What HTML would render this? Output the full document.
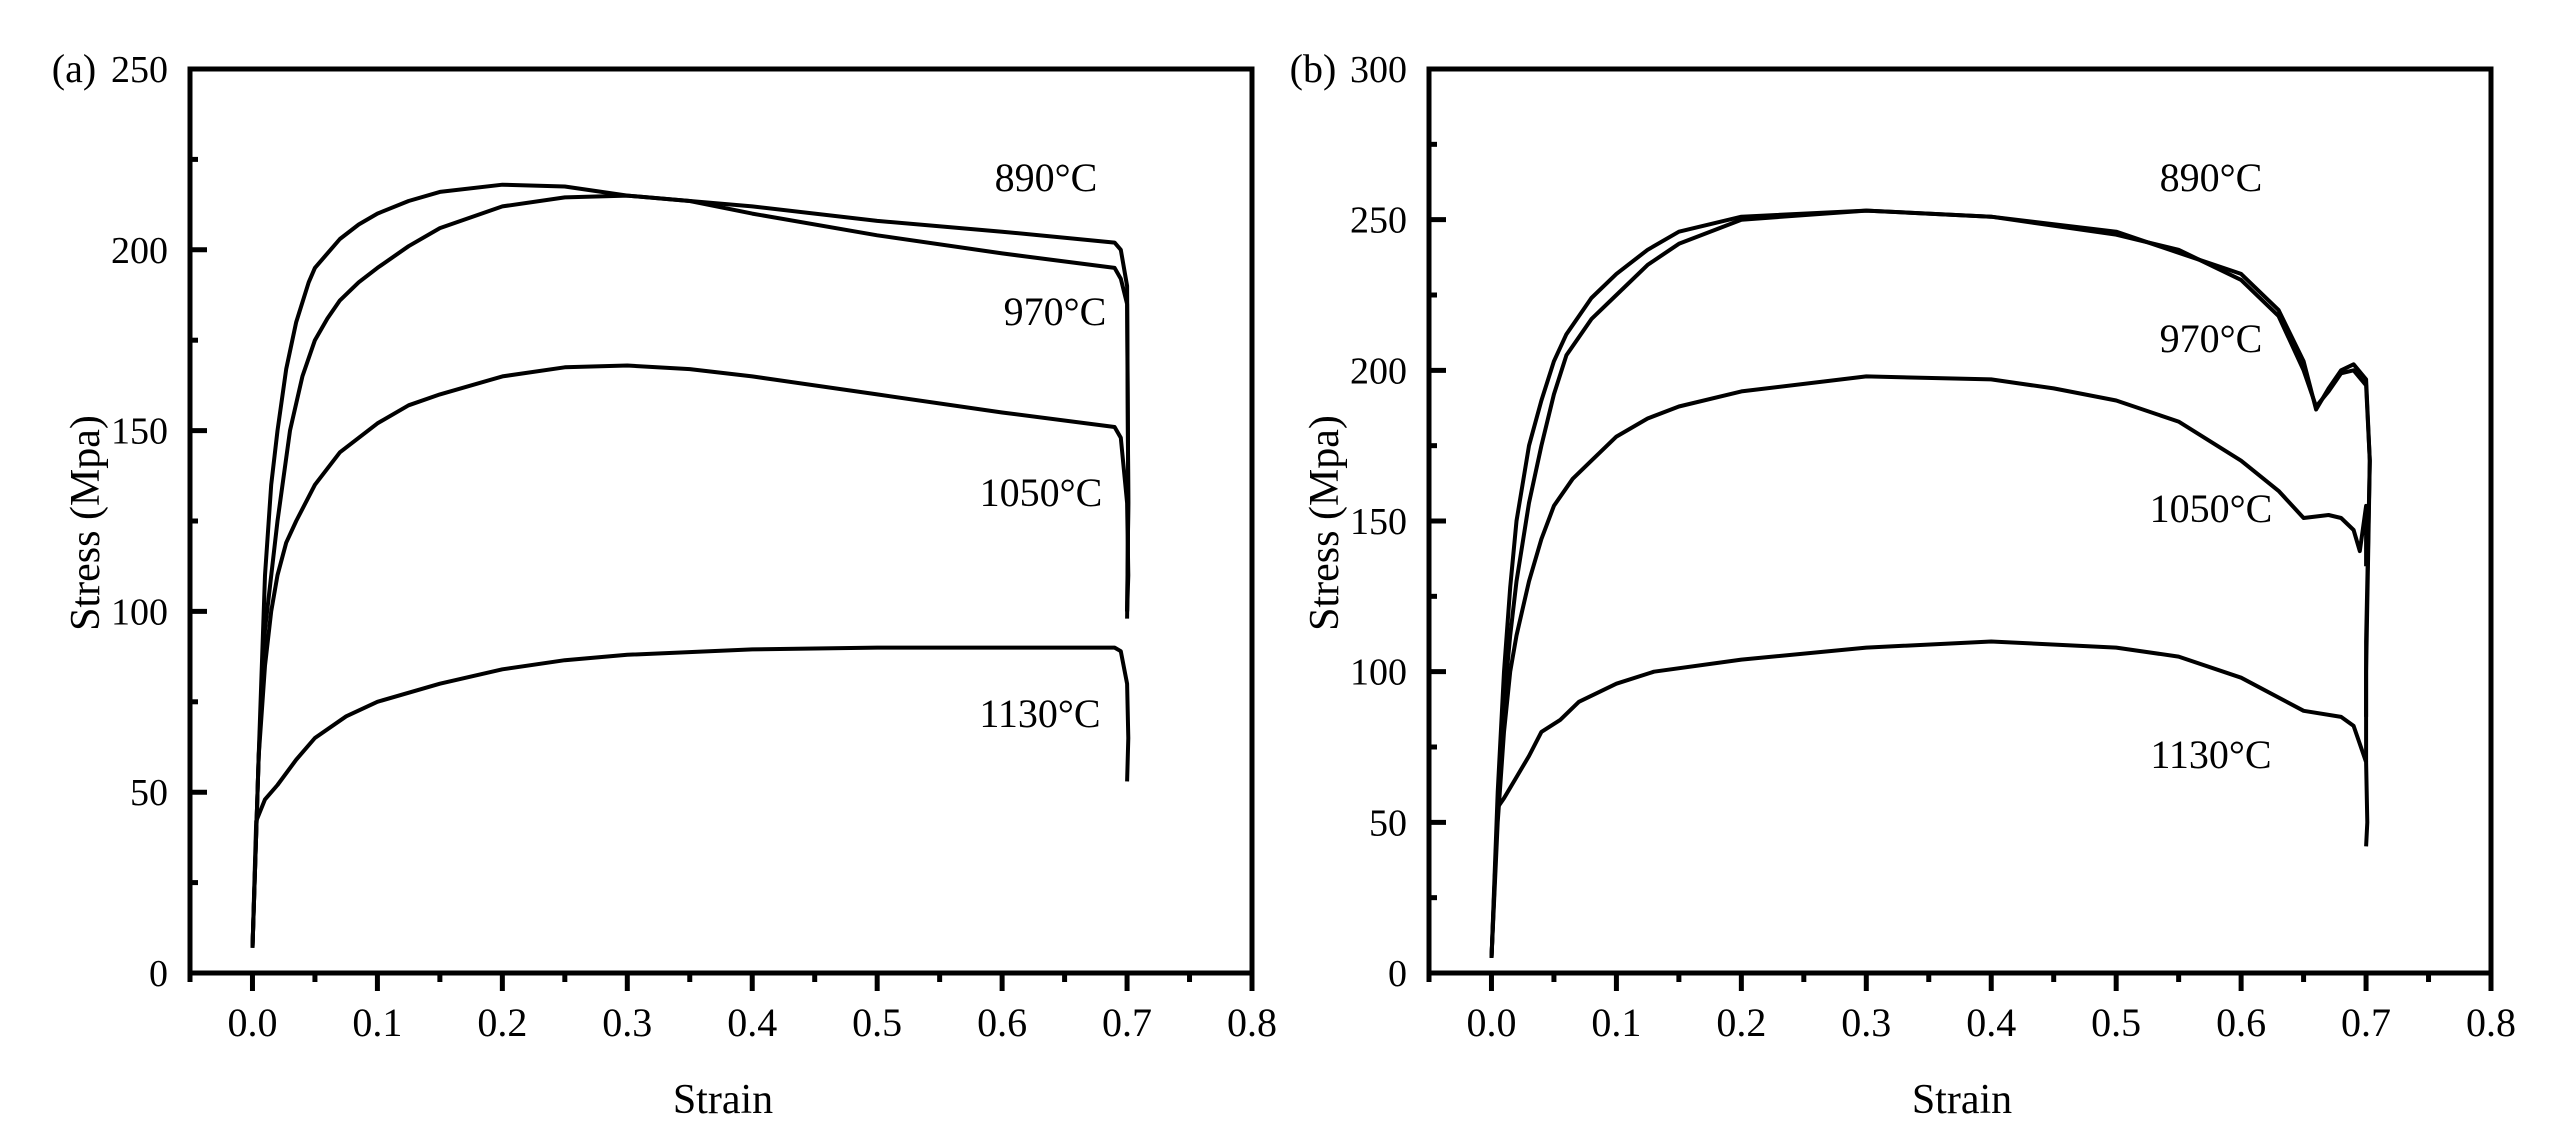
<!DOCTYPE html>
<html><head><meta charset="utf-8"><style>
body{margin:0;background:#fff}
svg text{font-family:"Liberation Serif",serif;fill:#000}
</style></head><body>
<svg id="fig" width="2550" height="1140" viewBox="0 0 2550 1140" xmlns="http://www.w3.org/2000/svg"></svg>
<script>
const xTicks=[0.0,0.1,0.2,0.3,0.4,0.5,0.6,0.7,0.8];
const yTicksA=[0,50,100,150,200,250];
const yTicksB=[0,50,100,150,200,250,300];
const seriesNames=["890°C","970°C","1050°C","1130°C"];
// panel a
const a890x=[0,0.005,0.01,0.015,0.02,0.027,0.035,0.045,0.05,0.06,0.07,0.085,0.1,0.125,0.15,0.2,0.25,0.3,0.4,0.5,0.6,0.69,0.695,0.7,0.701,0.7];
const a890y=[7,60,110,135,150,167,180,191,195,199,203,207,210,213.5,216,218,217.5,215,212,208,205,202,200,190,130,100];
const a970x=[0,0.005,0.01,0.02,0.03,0.04,0.05,0.06,0.07,0.085,0.1,0.125,0.15,0.2,0.25,0.3,0.35,0.4,0.5,0.6,0.69,0.695,0.7,0.701,0.7];
const a970y=[7,60,95,125,150,165,175,181,186,191,195,201,206,212,214.5,215,213.5,210,204,199,195,192,185,130,98];
const a1050x=[0,0.005,0.01,0.015,0.02,0.027,0.035,0.05,0.07,0.1,0.125,0.15,0.2,0.25,0.3,0.35,0.4,0.5,0.6,0.69,0.695,0.7,0.701,0.7];
const a1050y=[7,60,85,100,110,119,125,135,144,152,157,160,165,167.5,168,167,165,160,155,151,148,130,110,100];
const a1130x=[0,0.003,0.01,0.02,0.035,0.05,0.075,0.1,0.15,0.2,0.25,0.3,0.4,0.5,0.6,0.69,0.695,0.7,0.701,0.7];
const a1130y=[7,42,48,52,59,65,71,75,80,84,86.5,88,89.5,90,90,90,89,80,65,53];
// panel b
const b890x=[0,0.005,0.01,0.015,0.02,0.03,0.04,0.05,0.06,0.08,0.1,0.125,0.15,0.2,0.3,0.4,0.5,0.55,0.6,0.63,0.65,0.66,0.67,0.68,0.69,0.7,0.703,0.7,0.7];
const b890y=[5,60,100,128,150,175,190,203,212,224,232,240,246,251,253,251,245,240,230,218,200,188,193,199,200,195,170,100,70];
const b970x=[0,0.005,0.01,0.015,0.02,0.03,0.04,0.05,0.06,0.08,0.1,0.125,0.15,0.2,0.3,0.4,0.5,0.6,0.63,0.65,0.66,0.67,0.68,0.69,0.7,0.703,0.7,0.7];
const b970y=[5,55,90,112,130,156,175,192,205,217,225,235,242,250,253,251,246,232,220,203,187,194,200,202,197,170,110,85];
const b1050x=[0,0.005,0.01,0.015,0.02,0.03,0.04,0.05,0.065,0.08,0.1,0.125,0.15,0.2,0.3,0.4,0.45,0.5,0.55,0.6,0.63,0.65,0.67,0.68,0.69,0.695,0.7,0.7];
const b1050y=[5,50,80,100,112,130,144,155,164,170,178,184,188,193,198,197,194,190,183,170,160,151,152,151,147,140,155,135];
const b1130x=[0,0.005,0.01,0.02,0.03,0.04,0.055,0.07,0.1,0.13,0.2,0.3,0.4,0.5,0.55,0.6,0.65,0.68,0.69,0.7,0.701,0.7];
const b1130y=[5,55,58,65,72,80,84,90,96,100,104,108,110,108,105,98,87,85,82,70,50,42];

const NS="http://www.w3.org/2000/svg";
const svg=document.getElementById('fig');
function el(tag,attrs,parent){const e=document.createElementNS(NS,tag);for(const k in attrs)e.setAttribute(k,attrs[k]);(parent||svg).appendChild(e);return e;}

function panel(cfg){
  const g=el('g',{});
  
  
  const L=cfg.left,R=cfg.right,T=69,B=973;
  const sx=v=>L+(v+0.05)/0.85*(R-L);
  const sy=v=>B-v/cfg.ymax*(B-T);
  const fr=el('rect',{x:L,y:T,width:R-L,height:B-T,fill:'none',stroke:'#000','stroke-width':5},g);
  
  
  xTicks.forEach((t,i)=>{
    const x=sx(t);
    const tk=el('line',{x1:x,y1:B,x2:x,y2:B+18,stroke:'#000','stroke-width':5},g);
    
    
    const lb=el('text',{x:x,y:1036,'font-size':40,'text-anchor':'middle'},g);
    lb.textContent=t.toFixed(1);
    
    
    if(i<xTicks.length-1){
      const mx=sx(t+0.05);
      const m=el('line',{x1:mx,y1:B,x2:mx,y2:B+9,stroke:'#000','stroke-width':5},g);
      
      
    }
  });
  const mx0=el('line',{x1:sx(-0.05),y1:B,x2:sx(-0.05),y2:B+9,stroke:'#000','stroke-width':5},g);
  
  
  cfg.yticks.forEach((t,i)=>{
    const y=sy(t);
    const tk=el('line',{x1:L,y1:y,x2:L+17,y2:y,stroke:'#000','stroke-width':5},g);
    
    
    const lb=el('text',{x:L-22,y:y+13,'font-size':38,'text-anchor':'end'},g);
    lb.textContent=t;
    
    
    if(i<cfg.yticks.length-1){
      const my=sy(t+25);
      const m=el('line',{x1:L,y1:my,x2:L+8,y2:my,stroke:'#000','stroke-width':5},g);
      
      
    }
  });
  const pl=el('text',{x:cfg.left-116,y:82,'font-size':40,'text-anchor':'middle'},g);
  pl.textContent=cfg.letter;
  
  
  const yt=el('text',{x:0,y:0,'font-size':42,'text-anchor':'middle',transform:`translate(${cfg.left-91},523) rotate(-90)`},g);
  yt.textContent='Stress (Mpa)';
  
  
  const xt=el('text',{x:(L+R)/2+2,y:1113,'font-size':42,'text-anchor':'middle'},g);
  xt.textContent='Strain';
  
  
  cfg.series.forEach((s,i)=>{
    const d=s[0].map((x,j)=>(j?'L':'M')+sx(x).toFixed(1)+','+sy(s[1][j]).toFixed(1)).join(' ');
    const p=el('path',{d:d,fill:'none',stroke:'#000','stroke-width':4,'stroke-linejoin':'round'},g);
    
    
    const lb=el('text',{x:cfg.labels[i][0],y:cfg.labels[i][1]+14,'font-size':40,'text-anchor':'middle'},g);
    lb.textContent=seriesNames[i];
    
    
  });
}
panel({id:'panel-a',letter:'(a)',left:190,right:1252,ymax:250,yticks:yTicksA,
  series:[[a890x,a890y],[a970x,a970y],[a1050x,a1050y],[a1130x,a1130y]],
  labels:[[1046,177],[1055,311],[1041,492],[1040,713]]});
panel({id:'panel-b',letter:'(b)',left:1429,right:2491,ymax:300,yticks:yTicksB,
  series:[[b890x,b890y],[b970x,b970y],[b1050x,b1050y],[b1130x,b1130y]],
  labels:[[2211,177],[2211,338],[2211,508],[2211,754]]});
</script>
</body></html>
